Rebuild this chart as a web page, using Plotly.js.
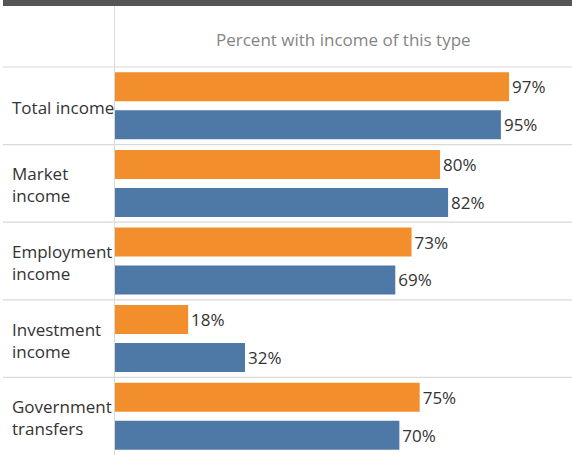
<!DOCTYPE html>
<html>
<head>
<meta charset="utf-8">
<script src="https://cdn.plot.ly/plotly-3.0.1.min.js"></script>
<style>
  html, body { margin: 0; padding: 0; background: #ffffff; }
  #chart { width: 572px; height: 455px; }
</style>
</head>
<body>
<div id="chart"></div>
<script>
// ---- Data ----
const categories = ['Total income', 'Market income', 'Employment income', 'Investment income', 'Government transfers'];
const categoryLabels = ['Total income', 'Market<br>income', 'Employment<br>income', 'Investment<br>income', 'Government<br>transfers'];
const seriesOrange = [97, 80, 73, 18, 75];
const seriesBlue = [95, 82, 69, 32, 70];
const headerTitle = 'Percent with income of this type';

// ---- Styles ----
const FONT = 'Open Sans, Noto Sans, sans-serif';
const ORANGE = '#F28E2B';
const BLUE = '#4E79A7';
const LINE = '#d9d9d9';
const W = 572, H = 455;
const M = { l: 115, r: 0, t: 67, b: 0 };
const plotW = W - M.l - M.r, plotH = H - M.t - M.b;
const pxToPaperX = px => (px - M.l) / plotW;
const pxToPaperY = py => (H - M.b - py) / plotH;

const n = categories.length;

const traces = [
  {
    type: 'bar', orientation: 'h', name: 'Series 1',
    y: categories, x: seriesOrange,
    marker: { color: ORANGE },
    texttemplate: '%{x}%', textposition: 'outside', cliponaxis: false,
    textfont: { family: FONT, size: 17, color: '#333333' },
    hoverinfo: 'skip'
  },
  {
    type: 'bar', orientation: 'h', name: 'Series 2',
    y: categories, x: seriesBlue,
    marker: { color: BLUE },
    texttemplate: '%{x}%', textposition: 'outside', cliponaxis: false,
    textfont: { family: FONT, size: 17, color: '#333333' },
    hoverinfo: 'skip'
  }
];

const shapes = [];
// top dark band
shapes.push({ type: 'rect', xref: 'paper', yref: 'paper', x0: pxToPaperX(3), x1: 1, y0: pxToPaperY(6), y1: pxToPaperY(-2),
  fillcolor: '#555555', line: { width: 0 }, layer: 'above' });
// vertical divider between label column and bars
shapes.push({ type: 'line', xref: 'paper', yref: 'paper', x0: pxToPaperX(114.5), x1: pxToPaperX(114.5), y0: 0, y1: pxToPaperY(6),
  line: { color: LINE, width: 1 } });
// header separator
shapes.push({ type: 'line', xref: 'paper', yref: 'paper', x0: pxToPaperX(3), x1: 1, y0: 1, y1: 1,
  line: { color: LINE, width: 1.2 } });
// row separators between categories
categories.forEach((c, i) => {
  if (i === 0) return;
  shapes.push({ type: 'line', xref: 'paper', yref: 'y', x0: pxToPaperX(3), x1: 1, y0: i - 0.5, y1: i - 0.5,
    line: { color: LINE, width: 1.2 } });
});

const annotations = categories.map((c, i) => ({
  xref: 'paper', yref: 'y', x: pxToPaperX(10), y: c, yshift: -1.5,
  xanchor: 'left', yanchor: 'middle', align: 'left',
  text: categoryLabels[i], showarrow: false,
  font: { family: FONT, size: 17, color: '#333333' }
}));
annotations.push({
  xref: 'paper', yref: 'paper', x: 0.5, y: pxToPaperY(39),
  xanchor: 'center', yanchor: 'middle', showarrow: false,
  text: headerTitle, font: { family: FONT, size: 17, color: '#858585' }
});

const layout = {
  width: W, height: H,
  margin: M,
  paper_bgcolor: '#ffffff', plot_bgcolor: '#ffffff',
  showlegend: false,
  barmode: 'group',
  bargap: 0.021,
  bargroupgap: 0.237,
  xaxis: { range: [0, 112.5], showgrid: false, zeroline: false, showticklabels: false, showline: false, fixedrange: true },
  yaxis: { type: 'category', categoryorder: 'array', categoryarray: categories, range: [n - 0.5, -0.5],
    showgrid: false, zeroline: false, showticklabels: false, showline: false, fixedrange: true },
  shapes: shapes,
  annotations: annotations,
  font: { family: FONT }
};

Plotly.newPlot('chart', traces, layout, { displayModeBar: false, staticPlot: true });
</script>
</body>
</html>
